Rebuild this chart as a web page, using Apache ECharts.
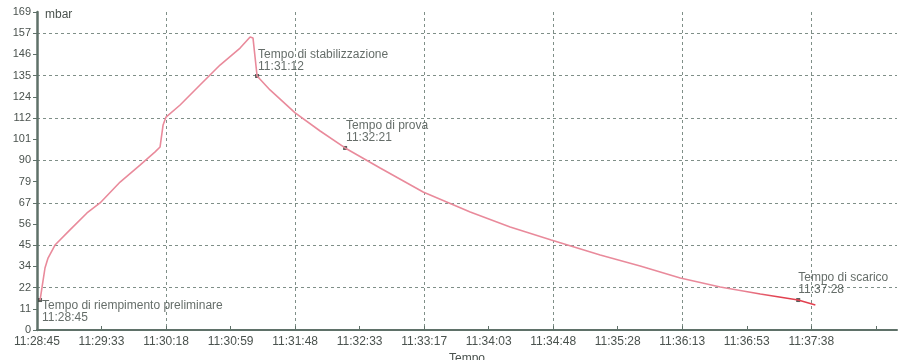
<!DOCTYPE html>
<html>
<head>
<meta charset="utf-8">
<script src="https://cdn.jsdelivr.net/npm/echarts@6/dist/echarts.min.js"></script>
<style>html,body{margin:0;padding:0;background:#fff;}#c{width:908px;height:360px;}</style>
</head>
<body>
<div id="c"></div>
<script>
// Tick labels
const xLabels = ['11:28:45','11:29:33','11:30:18','11:30:59','11:31:48','11:32:33','11:33:17','11:34:03','11:34:48','11:35:28','11:36:13','11:36:53','11:37:38'];
const yLabels = ['0','11','22','34','45','56','67','79','90','101','112','124','135','146','157','169'];
// Series: seconds after 11:28:45, pressure in mbar
const timeSec = [2.1, 3.4, 5.5, 7.6, 12.4, 22.7, 34.4, 43.4, 57.2, 70.9, 81.3, 84.7, 86.8, 88.8, 98.5, 112.2, 126.0, 139.8, 146.7, 148.7, 151.5, 160.4, 177.7, 194.9, 212.1, 236.2, 265.8, 298.2, 325.7, 354.0, 387.7, 415.2, 442.8, 470.3, 497.9, 524.0, 535.8];
const pressure = [15.9, 22.3, 32.9, 38.2, 45.1, 53.1, 62.1, 67.4, 78.5, 87.5, 94.5, 97.1, 108.8, 113.0, 119.4, 130.0, 140.6, 149.6, 155.5, 154.9, 134.8, 127.4, 115.2, 105.6, 96.6, 86.0, 73.2, 62.6, 54.7, 47.8, 39.8, 34.0, 27.6, 22.8, 19.1, 15.9, 13.3];
// Events
const eventIdx = [0, 20, 24, 35];
const eventNames = ['Tempo di riempimento preliminare', 'Tempo di stabilizzazione', 'Tempo di prova', 'Tempo di scarico'];
const eventTimes = ['11:28:45', '11:31:12', '11:32:21', '11:37:28'];

const xStep = 533 / 12;
const yStep = 11.25;
const FONT = 'Liberation Sans, Arial, sans-serif';
const axisCol = '#5f7169';
const gridCol = '#7f8f88';

const lineData = timeSec.map((t, i) => [t, pressure[i]]);
const labelPos = [[4, 2], [3, -25], [3, -26], [2, -26]];
const eventData = eventIdx.map((k, j) => ({
  value: [timeSec[k], pressure[k]],
  name: eventNames[j],
  time: eventTimes[j],
  label: { position: labelPos[j] }
}));

const chart = echarts.init(document.getElementById('c'));
chart.setOption({
  animation: false,
  backgroundColor: '#fff',
  textStyle: { fontFamily: FONT },
  grid: { left: 37, right: 11, top: 12, bottom: 30, containLabel: false, outerBoundsMode: 'none' },
  xAxis: [{
    type: 'value', min: 0, max: 592, interval: xStep,
    name: 'Tempo', nameLocation: 'middle', nameGap: 19,
    nameTextStyle: { color: '#4a524e', fontSize: 12, fontFamily: FONT },
    axisLine: { lineStyle: { color: axisCol, width: 2 } },
    axisTick: { inside: true, length: 4, lineStyle: { color: axisCol } },
    axisLabel: {
      color: '#4a524e', fontSize: 12, fontFamily: FONT, margin: 6,
      showMaxLabel: false,
      formatter: v => xLabels[Math.round(v / xStep)] || ''
    },
    splitLine: { show: false }
  }, {
    type: 'value', min: 0, max: 592, interval: xStep * 2,
    axisLine: { show: false }, axisTick: { show: false }, axisLabel: { show: false },
    splitLine: { show: true, showMinLine: false, showMaxLine: false, lineStyle: { color: gridCol, type: [3, 3], width: 1 } }
  }],
  yAxis: [{
    type: 'value', min: 0, max: 168.75, interval: yStep,
    axisLine: { show: true, lineStyle: { color: axisCol, width: 2.5 } },
    axisTick: { show: true, length: 4, lineStyle: { color: axisCol } },
    axisLabel: {
      color: '#4a524e', fontSize: 11, fontFamily: FONT, margin: 6,
      formatter: v => yLabels[Math.round(v / yStep)] || ''
    },
    splitLine: { show: false }
  }, {
    type: 'value', min: 0, max: 168.75, interval: yStep * 2, position: 'left',
    axisLine: { show: false }, axisTick: { show: false }, axisLabel: { show: false },
    splitLine: { show: true, showMinLine: false, showMaxLine: false, lineStyle: { color: gridCol, type: [3, 3], width: 1 } }
  }],
  graphic: [{
    type: 'text', left: 45, top: 9,
    style: { text: 'mbar', fill: '#4a524e', font: '12px ' + FONT }
  }],
  series: [{
    type: 'line', xAxisIndex: 0, yAxisIndex: 0,
    data: lineData, showSymbol: false, smooth: false,
    lineStyle: {
      width: 1.6,
      color: new echarts.graphic.LinearGradient(0, 0, 1, 0, [
        { offset: 0, color: '#e98a9b' },
        { offset: 0.9, color: '#e98a9b' },
        { offset: 0.95, color: '#e2404f' },
        { offset: 1, color: '#e2404f' }
      ])
    },
    itemStyle: { color: '#e98a9b' }
  }, {
    type: 'scatter', xAxisIndex: 0, yAxisIndex: 0,
    data: eventData, symbol: 'rect', symbolSize: 4,
    itemStyle: { color: '#2e3833' },
    label: {
      show: true, align: 'left', verticalAlign: 'top',
      color: '#3f4844', fontSize: 12, lineHeight: 12, fontFamily: FONT,
      formatter: p => p.data.name + '\n' + p.data.time
    }
  }]
});
</script>
</body>
</html>
